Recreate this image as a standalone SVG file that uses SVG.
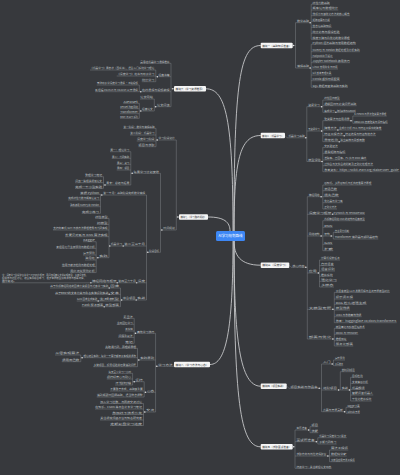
<svg xmlns="http://www.w3.org/2000/svg" width="400" height="475" viewBox="0 0 400 475">
<style>
.n text{font-family:"Noto Sans CJK SC","Noto Sans",sans-serif;font-size:2.6px;fill:#bfc1c4}
.n path{fill:none;stroke:#85888d;stroke-width:.45}
.m rect{fill:#f5f5f5}
.m text{font-family:"Noto Sans CJK SC","Noto Sans",sans-serif;font-size:2.8px;fill:#2f3033;text-anchor:middle}
.c{fill:none;stroke:#c6c7c9;stroke-width:.9}
.k{fill:none;stroke:#85888d;stroke-width:.45}
.d circle{fill:#e0e0e0}
</style>
<rect width="400" height="475" fill="#37393d"/>
<g id="connectors">
<path class="c" d="M234 231C234 80 240 45.5 260.7 45.5M234 231C234 160 240 135.5 260.7 135.5M234 241C234 255 240 265.2 260.7 265.2M234 241C234 340 240 386.2 260.7 386.2M234 241C234 400 240 446.8 260.7 446.8M233 231C233 120 226 88.8 206 88.8M230 231C230 222 224 217 208 217M233 241C233 330 226 364.5 210 364.5"/>
<path class="k" d="M292.7 45.5H295.5M295.5 22.7V68M309.3 22.7H311.2M311.2 4.3V39.3M309.3 68H311.2M311.2 44.3V87.3
M285 135.5L287 137.8M305 137.8H306.8M306.8 106.7V161.5M320 106.7H322.8M322.8 100V112.3M320 131H322.8M322.8 120.7V141.7M350 120.7H352.8M352.8 116V123.3M321 161.5H322.8M322.8 147.3V171.7
M289.3 265.2L291 267.3M305 267.3H307.3M307.3 196.7V339M320 196.7H322.8M322.8 185V209M320 236H322.8M322.8 220.7V250.7M330 236H333.3M333.3 232.3V239M317 273H319.5M319.5 260V287M331.7 309.3H334.3M334.3 292.3V322.7M331.7 339H334.3M334.3 328.3V346
M286.7 386.2L289 388.3M318 388.3H321.5M321.5 364V411.7M331 364H333.5M333.5 360V365.7M337.3 390H340.3M340.3 371.7V390M348.3 390H350.6M350.6 377.3V401M343.3 411.7H346M346 407.3V413.3
M292.7 446.8H295M295 430V468.3M307.3 430H310M310 426.7V432.7M315 441.7H317.8M317.8 437.7V444M326.7 456H329.5M329.5 450V461.7
M174 88.8H171M171 63.3V106.7M158.3 76.7H155.8M155.8 70V81.7M141.7 91.7H139.3M139.3 85V91.7M156.7 106.7H154.3M154.3 99V111M141.7 111H139.3M139.3 103.3V118.3
M179 217H176.3M176.3 140V230M158.3 140H156M156 128.3V146.7M163 230H160.5M160.5 173.3V252.3M133.3 173.3H130.8M130.8 151.7V185M106 185H103.5M103.5 176.7V188.3M149 252.3H146.5M146.5 195V300M103 195H100.5M100.5 194.3V213.3M110.5 246H109M109 218.3V257.7M99 257.7H96.2M96.2 241.7V272.6M122.5 300H120.5M120.5 288V306.7
M174 364.5L174 366.3M158 366.3H155.6M155.6 333.3V412M136.7 333.3H134.2M134.2 318.3V343.3M140 360H137.5M137.5 348.3V366.7M83.3 357.7H80.8M80.8 355V361.7M146.7 392.3H144.2M144.2 381.7V397M135 381.7H132.6M132.6 373.3V385M146 412H143.5M143.5 403.5V425.5"/>
<g class="d">
<circle cx="293.5" cy="45.5" r=".75"/><circle cx="310.1" cy="22.7" r=".75"/><circle cx="310.1" cy="68" r=".75"/><circle cx="305.8" cy="137.8" r=".75"/><circle cx="321.6" cy="106.7" r=".75"/><circle cx="321.6" cy="131" r=".75"/><circle cx="322" cy="161.5" r=".75"/><circle cx="335.9" cy="112.3" r=".75"/><circle cx="351" cy="120.7" r=".75"/><circle cx="337.9" cy="130" r=".75"/><circle cx="344.2" cy="135.7" r=".75"/><circle cx="339.2" cy="141.7" r=".75"/><circle cx="305.8" cy="267.3" r=".75"/><circle cx="321.1" cy="196.7" r=".75"/><circle cx="332.6" cy="214.3" r=".75"/><circle cx="321.1" cy="236" r=".75"/><circle cx="331.2" cy="236" r=".75"/><circle cx="318.3" cy="273" r=".75"/><circle cx="332.9" cy="309.3" r=".75"/><circle cx="332.9" cy="339" r=".75"/><circle cx="319.2" cy="388.3" r=".75"/><circle cx="332.2" cy="364" r=".75"/><circle cx="338.6" cy="390" r=".75"/><circle cx="349.4" cy="390" r=".75"/><circle cx="344.5" cy="411.7" r=".75"/><circle cx="293.7" cy="446.8" r=".75"/><circle cx="308.6" cy="430" r=".75"/><circle cx="316.3" cy="441.7" r=".75"/><circle cx="327.9" cy="456" r=".75"/>
<circle cx="172.8" cy="88.8" r=".75"/><circle cx="157.4" cy="76.7" r=".75"/><circle cx="140.8" cy="91.7" r=".75"/><circle cx="155.7" cy="106.7" r=".75"/><circle cx="140.8" cy="111" r=".75"/><circle cx="177.9" cy="217" r=".75"/><circle cx="157.2" cy="140" r=".75"/><circle cx="161.9" cy="230" r=".75"/><circle cx="132.2" cy="173.3" r=".75"/><circle cx="105" cy="185" r=".75"/><circle cx="147.8" cy="252.3" r=".75"/><circle cx="101.8" cy="195" r=".75"/><circle cx="123.2" cy="246" r=".75"/><circle cx="109.8" cy="246" r=".75"/><circle cx="97.9" cy="257.7" r=".75"/><circle cx="136.7" cy="282.8" r=".75"/><circle cx="117.2" cy="282.8" r=".75"/><circle cx="90.9" cy="282.8" r=".75"/><circle cx="136.2" cy="300" r=".75"/><circle cx="121.7" cy="300" r=".75"/><circle cx="109.2" cy="288" r=".75"/><circle cx="109.2" cy="294.3" r=".75"/><circle cx="98.2" cy="301" r=".75"/><circle cx="104.2" cy="306.7" r=".75"/><circle cx="156.8" cy="366.3" r=".75"/><circle cx="135.5" cy="333.3" r=".75"/><circle cx="138.8" cy="360" r=".75"/><circle cx="82.1" cy="357.7" r=".75"/><circle cx="145.5" cy="392.3" r=".75"/><circle cx="134.2" cy="381.7" r=".75"/><circle cx="144.8" cy="412" r=".75"/>
</g>
</g>
<g id="center"><rect x="216" y="231" width="29" height="10" rx="1.5" fill="#3d87f5"/><text x="230.5" y="237.4" font-family="Noto Sans CJK SC, sans-serif" font-size="3.6" fill="#fff" text-anchor="middle" textLength="24" lengthAdjust="spacingAndGlyphs">AI学习规划路线</text></g>
<g id="R1" class="m"><rect x="260.7" y="42.7" width="32" height="5.6" rx="1"/><text x="276.7" y="46.5" textLength="29" lengthAdjust="spacingAndGlyphs">模块一（基础知识准备）</text></g>
<g id="R2" class="m"><rect x="260.7" y="132.7" width="24.3" height="5.6" rx="1"/><text x="272.85" y="136.5" textLength="21.5" lengthAdjust="spacingAndGlyphs">模块二（机器学习）</text></g>
<g id="R3" class="m"><rect x="260.7" y="262.4" width="28.6" height="5.6" rx="1"/><text x="275" y="266.2" textLength="25.6" lengthAdjust="spacingAndGlyphs">模块三（深度学习）</text></g>
<g id="R4" class="m"><rect x="260.7" y="383.4" width="26" height="5.6" rx="1"/><text x="273.7" y="387.2" textLength="23" lengthAdjust="spacingAndGlyphs">模块四（项目实战）</text></g>
<g id="R5" class="m"><rect x="260.7" y="444" width="32" height="5.6" rx="1"/><text x="276.7" y="447.8" textLength="29" lengthAdjust="spacingAndGlyphs">模块五（求职面试准备）</text></g>
<g id="L1" class="m"><rect x="174" y="86" width="32" height="5.6" rx="1"/><text x="190" y="89.8" textLength="29" lengthAdjust="spacingAndGlyphs">模块六（学习资源推荐）</text></g>
<g id="L2" class="m"><rect x="179" y="214.2" width="29" height="5.6" rx="1"/><text x="193.5" y="218" textLength="26" lengthAdjust="spacingAndGlyphs">模块七（学习路线规划）</text></g>
<g id="L3" class="m"><rect x="174" y="361.7" width="36" height="5.6" rx="1"/><text x="192" y="365.5" textLength="33" lengthAdjust="spacingAndGlyphs">模块八（学习方法与心态）</text></g>
<g class="n">
<g id="r1a"><path d="M295.5 22.7H309.3"/><text x="296.9" y="22" textLength="12" lengthAdjust="spacingAndGlyphs">数学基础</text></g>
<g id="r1b"><path d="M295.5 68H309.3"/><text x="296.9" y="67.3" textLength="12" lengthAdjust="spacingAndGlyphs">编程基础</text></g>
<g id="r1a1"><path d="M311.2 4.3H330"/><text x="312.6" y="3.6" textLength="17" lengthAdjust="spacingAndGlyphs">线性代数基础</text></g>
<g id="r1a2"><path d="M311.2 10H338.3"/><text x="312.6" y="9.3" textLength="25.3" lengthAdjust="spacingAndGlyphs">概率论与数理统计</text></g>
<g id="r1a3"><path d="M311.2 15.7H350"/><text x="312.6" y="15" textLength="37" lengthAdjust="spacingAndGlyphs">微积分与最优化方法的核心概念</text></g>
<g id="r1a4"><path d="M311.2 21.3H330"/><text x="312.6" y="20.6" textLength="17" lengthAdjust="spacingAndGlyphs">矩阵运算与分解</text></g>
<g id="r1a5"><path d="M311.2 27.3H331.7"/><text x="312.6" y="26.6" textLength="18.7" lengthAdjust="spacingAndGlyphs">信息论基础知识</text></g>
<g id="r1a6"><path d="M311.2 33.3H340"/><text x="312.6" y="32.6" textLength="27" lengthAdjust="spacingAndGlyphs">统计分布与假设检验</text></g>
<g id="r1a7"><path d="M311.2 39.3H350"/><text x="312.6" y="38.6" textLength="37" lengthAdjust="spacingAndGlyphs">梯度下降与凸优化的数学原理</text></g>
<g id="r1b1"><path d="M311.2 44.3H356"/><text x="312.6" y="43.6" textLength="43" lengthAdjust="spacingAndGlyphs">Python 语法基础与常用数据结构</text></g>
<g id="r1b2"><path d="M311.2 51.7H360"/><text x="312.6" y="51" textLength="47" lengthAdjust="spacingAndGlyphs">NumPy 与 Pandas 数据处理及分析实践</text></g>
<g id="r1b3"><path d="M311.2 57.3H333"/><text x="312.6" y="56.6" textLength="20" lengthAdjust="spacingAndGlyphs">Matplotlib 可视化</text></g>
<g id="r1b4"><path d="M311.2 62.7H350"/><text x="312.6" y="62" textLength="37" lengthAdjust="spacingAndGlyphs">Jupyter Notebook 使用技巧</text></g>
<g id="r1b5"><path d="M311.2 69H338"/><text x="312.6" y="68.3" textLength="25" lengthAdjust="spacingAndGlyphs">Linux 常用命令与环境</text></g>
<g id="r1b6"><path d="M311.2 75H331.7"/><text x="312.6" y="74.3" textLength="18.7" lengthAdjust="spacingAndGlyphs">Git 版本管理工具</text></g>
<g id="r1b7"><path d="M311.2 80.7H340"/><text x="312.6" y="80" textLength="27" lengthAdjust="spacingAndGlyphs">Conda 虚拟环境配置</text></g>
<g id="r1b8"><path d="M311.2 87.3H348"/><text x="312.6" y="86.6" textLength="35" lengthAdjust="spacingAndGlyphs">SQL 数据库查询基础与实践</text></g>

<g id="r2l"><path d="M287 137.8H305"/><text x="288.4" y="137.1" textLength="16.2" lengthAdjust="spacingAndGlyphs">机器学习基础</text></g>
<g id="r2a"><path d="M306.8 106.7H320"/><text x="308.2" y="106" textLength="11.4" lengthAdjust="spacingAndGlyphs">监督学习</text></g>
<g id="r2b"><path d="M306.8 131H320"/><text x="308.2" y="130.3" textLength="11.4" lengthAdjust="spacingAndGlyphs">无监督学习</text></g>
<g id="r2c"><path d="M306.8 161.5H321"/><text x="308.2" y="160.8" textLength="12.4" lengthAdjust="spacingAndGlyphs">模型评估</text></g>
<g id="r2a1"><path d="M322.8 100H340"/><text x="324.2" y="99.3" textLength="15.4" lengthAdjust="spacingAndGlyphs">线性回归模型</text></g>
<g id="r2a2"><path d="M322.8 105.7H356.7"/><text x="324.2" y="105" textLength="32.1" lengthAdjust="spacingAndGlyphs">逻辑回归与分类问题基础</text></g>
<g id="r2a3"><path d="M322.8 112.3H335"/><text x="324.2" y="111.6" textLength="10.4" lengthAdjust="spacingAndGlyphs">集成学习</text></g>
<g id="r2a3a"><path d="M335 112.3H356"/><text x="336.9" y="111.6" textLength="18.7" lengthAdjust="spacingAndGlyphs">随机森林与XGBoost</text></g>
<g id="r2b1"><path d="M322.8 120.7H350"/><text x="324.2" y="120" textLength="25.4" lengthAdjust="spacingAndGlyphs">聚类算法与应用场景</text></g>
<g id="r2b1a"><path d="M352.8 116H386.7"/><text x="354.2" y="115.3" textLength="32.1" lengthAdjust="spacingAndGlyphs">K-Means 与层次聚类算法原理</text></g>
<g id="r2b1b"><path d="M352.8 123.3H388"/><text x="354.2" y="122.6" textLength="33.4" lengthAdjust="spacingAndGlyphs">DBSCAN 密度聚类与评价指标</text></g>
<g id="r2b2"><path d="M322.8 130H337"/><text x="324.2" y="129.3" textLength="12.4" lengthAdjust="spacingAndGlyphs">降维方法</text></g>
<g id="r2b2a"><path d="M337 130H381.7"/><text x="338.9" y="129.3" textLength="42.4" lengthAdjust="spacingAndGlyphs">主成分分析 PCA 与特征工程中的降维</text></g>
<g id="r2b3"><path d="M322.8 135.7H343.3"/><text x="324.2" y="135" textLength="18.7" lengthAdjust="spacingAndGlyphs">特征工程方法</text></g>
<g id="r2b3a"><path d="M343.3 135.7H376"/><text x="345.2" y="135" textLength="30.4" lengthAdjust="spacingAndGlyphs">特征选择与特征构造方法</text></g>
<g id="r2b4"><path d="M322.8 141.7H338.3"/><text x="324.2" y="141" textLength="13.7" lengthAdjust="spacingAndGlyphs">异常检测</text></g>
<g id="r2b4a"><path d="M338.3 141.7H365"/><text x="340.2" y="141" textLength="24.4" lengthAdjust="spacingAndGlyphs">孤立森林与局部离群</text></g>
<g id="r2c1"><path d="M322.8 147.3H338"/><text x="324.2" y="146.6" textLength="13.4" lengthAdjust="spacingAndGlyphs">交叉验证法</text></g>
<g id="r2c2"><path d="M322.8 153.3H345.7"/><text x="324.2" y="152.6" textLength="21.1" lengthAdjust="spacingAndGlyphs">混淆矩阵与指标</text></g>
<g id="r2c3"><path d="M322.8 160H366.7"/><text x="324.2" y="159.3" textLength="42.1" lengthAdjust="spacingAndGlyphs">准确率、召回率、F1 值与 ROC 曲线</text></g>
<g id="r2c4"><path d="M322.8 165.7H373.3"/><text x="324.2" y="165" textLength="48.7" lengthAdjust="spacingAndGlyphs">过拟合与欠拟合的判断及正则化处理方法</text></g>
<g id="r2c5"><path d="M322.8 171.7H399.5"/><text x="324.2" y="171" textLength="74.5" lengthAdjust="spacingAndGlyphs">参考资料：https://scikit-learn.org/stable/user_guide</text></g>

<g id="r3l"><path d="M291 267.3H305"/><text x="292.4" y="266.6" textLength="12.2" lengthAdjust="spacingAndGlyphs">核心内容</text></g>
<g id="r3a"><path d="M307.3 196.7H320"/><text x="308.7" y="196" textLength="10.9" lengthAdjust="spacingAndGlyphs">神经网络</text></g>
<g id="r3b"><path d="M307.3 214.3H331.7"/><text x="308.7" y="213.6" textLength="22.6" lengthAdjust="spacingAndGlyphs">深度学习框架</text></g>
<g id="r3b1"><path d="M331.7 214.3H365"/><text x="333.6" y="213.6" textLength="31" lengthAdjust="spacingAndGlyphs">PyTorch 与 TensorFlow</text></g>
<g id="r3c"><path d="M307.3 236H320"/><text x="308.7" y="235.3" textLength="10.9" lengthAdjust="spacingAndGlyphs">网络结构</text></g>
<g id="r3d"><path d="M307.3 273H317"/><text x="308.7" y="272.3" textLength="7.9" lengthAdjust="spacingAndGlyphs">应用</text></g>
<g id="r3e"><path d="M307.3 309.3H331.7"/><text x="308.7" y="308.6" textLength="22.6" lengthAdjust="spacingAndGlyphs">大模型专题</text></g>
<g id="r3f"><path d="M307.3 339H331.7"/><text x="308.7" y="338.3" textLength="22.6" lengthAdjust="spacingAndGlyphs">部署与优化</text></g>
<g id="r3a1"><path d="M322.8 185H371.7"/><text x="324.2" y="184.3" textLength="47.1" lengthAdjust="spacingAndGlyphs">感知机、多层感知机与反向传播算法原理</text></g>
<g id="r3a2"><path d="M322.8 190.7H337.3"/><text x="324.2" y="190" textLength="12.7" lengthAdjust="spacingAndGlyphs">激活函数</text></g>
<g id="r3a3"><path d="M322.8 196.7H339"/><text x="324.2" y="196" textLength="14.4" lengthAdjust="spacingAndGlyphs">损失函数</text></g>
<g id="r3a4"><path d="M322.8 202.7H343"/><text x="324.2" y="202" textLength="18.4" lengthAdjust="spacingAndGlyphs">优化器与学习率</text></g>
<g id="r3a5"><path d="M322.8 209H337"/><text x="324.2" y="208.3" textLength="12.4" lengthAdjust="spacingAndGlyphs">正则化方法</text></g>
<g id="r3c1"><path d="M322.8 220.7H365"/><text x="324.2" y="220" textLength="40.4" lengthAdjust="spacingAndGlyphs">卷积神经网络 CNN 的结构与经典模型</text></g>
<g id="r3c2"><path d="M322.8 227.3H332.7"/><text x="324.2" y="226.6" textLength="8.1" lengthAdjust="spacingAndGlyphs">RNN</text></g>
<g id="r3c3"><path d="M322.8 236H330"/><text x="324.2" y="235.3" textLength="5.4" lengthAdjust="spacingAndGlyphs">架构</text></g>
<g id="r3c3a"><path d="M333.3 232.3H349.3"/><text x="334.7" y="231.6" textLength="14.2" lengthAdjust="spacingAndGlyphs">自注意力机制</text></g>
<g id="r3c3b"><path d="M333.3 239H378.3"/><text x="334.7" y="238.3" textLength="43.2" lengthAdjust="spacingAndGlyphs">Transformer 编码器与解码器结构</text></g>
<g id="r3c4"><path d="M322.8 244.3H332.7"/><text x="324.2" y="243.6" textLength="8.1" lengthAdjust="spacingAndGlyphs">GAN</text></g>
<g id="r3c5"><path d="M322.8 250.7H333.3"/><text x="324.2" y="250" textLength="8.7" lengthAdjust="spacingAndGlyphs">扩散</text></g>
<g id="r3d1"><path d="M319.5 260H340"/><text x="320.9" y="259.3" textLength="18.7" lengthAdjust="spacingAndGlyphs">计算机视觉任务</text></g>
<g id="r3d2"><path d="M319.5 265.7H334"/><text x="320.9" y="265" textLength="12.7" lengthAdjust="spacingAndGlyphs">自然语言</text></g>
<g id="r3d3"><path d="M319.5 271H335"/><text x="320.9" y="270.3" textLength="13.7" lengthAdjust="spacingAndGlyphs">语音识别</text></g>
<g id="r3d4"><path d="M319.5 276.3H333"/><text x="320.9" y="275.6" textLength="11.7" lengthAdjust="spacingAndGlyphs">推荐系统</text></g>
<g id="r3d5"><path d="M319.5 281.3H337"/><text x="320.9" y="280.6" textLength="15.7" lengthAdjust="spacingAndGlyphs">强化学习</text></g>
<g id="r3d6"><path d="M319.5 287H334"/><text x="320.9" y="286.3" textLength="12.7" lengthAdjust="spacingAndGlyphs">多模态</text></g>
<g id="r3e1"><path d="M334.3 292.3H390"/><text x="335.7" y="291.6" textLength="53.9" lengthAdjust="spacingAndGlyphs">大语言模型 LLM 发展历程与主流开源模型对比</text></g>
<g id="r3e2"><path d="M334.3 299H353.3"/><text x="335.7" y="298.3" textLength="17.2" lengthAdjust="spacingAndGlyphs">提示词工程</text></g>
<g id="r3e3"><path d="M334.3 304.3H366.7"/><text x="335.7" y="303.6" textLength="30.6" lengthAdjust="spacingAndGlyphs">RAG 检索增强生成</text></g>
<g id="r3e4"><path d="M334.3 310H350"/><text x="335.7" y="309.3" textLength="13.9" lengthAdjust="spacingAndGlyphs">模型微调</text></g>
<g id="r3e5"><path d="M334.3 316.7H361.7"/><text x="335.7" y="316" textLength="25.6" lengthAdjust="spacingAndGlyphs">LoRA 与参数高效微调</text></g>
<g id="r3e6"><path d="M334.3 322.7H396.7"/><text x="335.7" y="322" textLength="60.6" lengthAdjust="spacingAndGlyphs">参考：huggingface.co/docs/transformers</text></g>
<g id="r3f1"><path d="M334.3 328.3H365"/><text x="335.7" y="327.6" textLength="28.9" lengthAdjust="spacingAndGlyphs">模型量化与剪枝压缩技术</text></g>
<g id="r3f2"><path d="M334.3 334.3H358.3"/><text x="335.7" y="333.6" textLength="22.2" lengthAdjust="spacingAndGlyphs">ONNX 与 TensorRT</text></g>
<g id="r3f3"><path d="M334.3 340.7H346.7"/><text x="335.7" y="340" textLength="10.6" lengthAdjust="spacingAndGlyphs">推理加速</text></g>
<g id="r3f4"><path d="M334.3 346H353.3"/><text x="335.7" y="345.3" textLength="17.2" lengthAdjust="spacingAndGlyphs">服务化部署</text></g>

<g id="r4l"><path d="M289 388.3H318"/><text x="290.4" y="387.6" textLength="27.2" lengthAdjust="spacingAndGlyphs">项目实战与作品集</text></g>
<g id="r4a"><path d="M321.5 364H331"/><text x="322.9" y="363.3" textLength="7.7" lengthAdjust="spacingAndGlyphs">入门</text></g>
<g id="r4a1"><path d="M333.5 360H345"/><text x="334.9" y="359.3" textLength="9.7" lengthAdjust="spacingAndGlyphs">房价预测</text></g>
<g id="r4a2"><path d="M333.5 365.7H343.3"/><text x="334.9" y="365" textLength="8" lengthAdjust="spacingAndGlyphs">手写数字</text></g>
<g id="r4b"><path d="M321.5 390H337.3"/><text x="322.9" y="389.3" textLength="14" lengthAdjust="spacingAndGlyphs">进阶项目</text></g>
<g id="r4b1"><path d="M340.3 371.7H355"/><text x="341.7" y="371" textLength="12.9" lengthAdjust="spacingAndGlyphs">猫狗识别项目</text></g>
<g id="r4b2"><path d="M340.3 390H348.3"/><text x="341.7" y="389.3" textLength="6.2" lengthAdjust="spacingAndGlyphs">实战</text></g>
<g id="r4b2a"><path d="M350.6 377.3H363"/><text x="352" y="376.6" textLength="10.6" lengthAdjust="spacingAndGlyphs">目标检测</text></g>
<g id="r4b2b"><path d="M350.6 383.3H368.3"/><text x="352" y="382.6" textLength="15.9" lengthAdjust="spacingAndGlyphs">文本情感分析</text></g>
<g id="r4b2c"><path d="M350.6 389.3H365"/><text x="352" y="388.6" textLength="12.6" lengthAdjust="spacingAndGlyphs">机器翻译</text></g>
<g id="r4b2d"><path d="M350.6 395H373.3"/><text x="352" y="394.3" textLength="20.9" lengthAdjust="spacingAndGlyphs">智能问答机器人</text></g>
<g id="r4b2e"><path d="M350.6 401H371.7"/><text x="352" y="400.3" textLength="19.3" lengthAdjust="spacingAndGlyphs">个性化推荐系统</text></g>
<g id="r4c"><path d="M321.5 411.7H343.3"/><text x="322.9" y="411" textLength="20" lengthAdjust="spacingAndGlyphs">竞赛与开源贡献</text></g>
<g id="r4c1"><path d="M346 407.3H360"/><text x="347.4" y="406.6" textLength="12.2" lengthAdjust="spacingAndGlyphs">Kaggle 竞赛</text></g>
<g id="r4c2"><path d="M346 413.3H360"/><text x="347.4" y="412.6" textLength="12.2" lengthAdjust="spacingAndGlyphs">GitHub 开源</text></g>

<g id="r5a"><path d="M295 430H307.3"/><text x="296.4" y="429.3" textLength="10.5" lengthAdjust="spacingAndGlyphs">简历准备</text></g>
<g id="r5a1"><path d="M310 426.7H318.3"/><text x="311.4" y="426" textLength="6.5" lengthAdjust="spacingAndGlyphs">项目</text></g>
<g id="r5a2"><path d="M310 432.7H318.3"/><text x="311.4" y="432" textLength="6.5" lengthAdjust="spacingAndGlyphs">技能</text></g>
<g id="r5b"><path d="M295 441.7H315"/><text x="296.4" y="441" textLength="18.2" lengthAdjust="spacingAndGlyphs">面试题准备</text></g>
<g id="r5b1"><path d="M317.8 437.7H346.7"/><text x="319.2" y="437" textLength="27.1" lengthAdjust="spacingAndGlyphs">机器学习深度学习八股文</text></g>
<g id="r5b2"><path d="M317.8 444H336.7"/><text x="319.2" y="443.3" textLength="17.1" lengthAdjust="spacingAndGlyphs">手撕代码练习</text></g>
<g id="r5c"><path d="M295 456H326.7"/><text x="296.4" y="455.3" textLength="29.9" lengthAdjust="spacingAndGlyphs">求职方向与岗位选择建议</text></g>
<g id="r5c1"><path d="M329.5 450H348.3"/><text x="330.9" y="449.3" textLength="17" lengthAdjust="spacingAndGlyphs">算法工程师</text></g>
<g id="r5c2"><path d="M329.5 456H346.7"/><text x="330.9" y="455.3" textLength="15.4" lengthAdjust="spacingAndGlyphs">数据科学家</text></g>
<g id="r5c3"><path d="M329.5 461.7H355"/><text x="330.9" y="461" textLength="23.7" lengthAdjust="spacingAndGlyphs">大模型应用开发工程师</text></g>
<g id="r5d"><path d="M295 468.3H331.7"/><text x="296.4" y="467.6" textLength="34.9" lengthAdjust="spacingAndGlyphs">持续学习：关注前沿论文动态</text></g>

<g id="l1a"><path d="M140 63.3H171"/><text x="140.3" y="62.6" textLength="29.2" lengthAdjust="spacingAndGlyphs">吴恩达机器学习课程推荐</text></g>
<g id="l1b"><path d="M158.3 76.7H171"/><text x="158.6" y="76" textLength="10.9" lengthAdjust="spacingAndGlyphs">经典书籍</text></g>
<g id="l1b1"><path d="M90 70H155.8"/><text x="90.3" y="69.3" textLength="64" lengthAdjust="spacingAndGlyphs">《机器学习》周志华（西瓜书），适合入门系统学习理论</text></g>
<g id="l1b2"><path d="M116.7 76H155.8"/><text x="117" y="75.3" textLength="37.3" lengthAdjust="spacingAndGlyphs">《深度学习》花书与动手学习</text></g>
<g id="l1b3"><path d="M141.7 81.7H155.8"/><text x="142" y="81" textLength="12.3" lengthAdjust="spacingAndGlyphs">统计学习</text></g>
<g id="l1c"><path d="M141.7 91.7H171"/><text x="142" y="91" textLength="27.5" lengthAdjust="spacingAndGlyphs">在线课程与视频教程</text></g>
<g id="l1c1"><path d="M96.7 85H139.3"/><text x="97" y="84.3" textLength="40.8" lengthAdjust="spacingAndGlyphs">李沐动手学深度学习课程 · B站视频</text></g>
<g id="l1c2"><path d="M95 91.7H139.3"/><text x="95.3" y="91" textLength="42.5" lengthAdjust="spacingAndGlyphs">斯坦福 CS231n 与 CS224n 公开课程</text></g>
<g id="l1d"><path d="M156.7 106.7H171"/><text x="157" y="106" textLength="12.5" lengthAdjust="spacingAndGlyphs">论文阅读</text></g>
<g id="l1d1"><path d="M140 99H154.3"/><text x="140.3" y="98.3" textLength="12.5" lengthAdjust="spacingAndGlyphs">论文网站</text></g>
<g id="l1d2"><path d="M141.7 111H154.3"/><text x="142" y="110.3" textLength="10.8" lengthAdjust="spacingAndGlyphs">经典论文</text></g>
<g id="l1d2a"><path d="M123.3 103.3H139.3"/><text x="123.6" y="102.6" textLength="14.2" lengthAdjust="spacingAndGlyphs">AlexNet</text></g>
<g id="l1d2b"><path d="M120 108.7H139.3"/><text x="120.3" y="108" textLength="17.5" lengthAdjust="spacingAndGlyphs">ResNet 残差网络</text></g>
<g id="l1d2c"><path d="M120 113.7H139.3"/><text x="120.3" y="113" textLength="17.5" lengthAdjust="spacingAndGlyphs">Transformer</text></g>
<g id="l1d2d"><path d="M120 118.3H139.3"/><text x="120.3" y="117.6" textLength="17.5" lengthAdjust="spacingAndGlyphs">BERT 与 GPT 系列</text></g>

<g id="l2a"><path d="M158.3 140H176.3"/><text x="158.6" y="139.3" textLength="16.2" lengthAdjust="spacingAndGlyphs">学习阶段划分</text></g>
<g id="l2a1"><path d="M123.3 128.3H156"/><text x="123.6" y="127.6" textLength="30.9" lengthAdjust="spacingAndGlyphs">第一阶段：数学与编程基础</text></g>
<g id="l2a2"><path d="M130 135H156"/><text x="130.3" y="134.3" textLength="24.2" lengthAdjust="spacingAndGlyphs">第二阶段：机器学习</text></g>
<g id="l2a3"><path d="M136.7 141H156"/><text x="137" y="140.3" textLength="17.5" lengthAdjust="spacingAndGlyphs">深度学习阶段</text></g>
<g id="l2a4"><path d="M138.3 146.7H156"/><text x="138.6" y="146" textLength="15.9" lengthAdjust="spacingAndGlyphs">项目与求职</text></g>
<g id="l2b"><path d="M163 230H176.3"/><text x="163.3" y="229.3" textLength="11.5" lengthAdjust="spacingAndGlyphs">时间规划</text></g>
<g id="l2b1"><path d="M133.3 173.3H160.5"/><text x="133.6" y="172.6" textLength="25.4" lengthAdjust="spacingAndGlyphs">每周学习计划安排</text></g>
<g id="l2b1a"><path d="M110 151.7H130.8"/><text x="110.3" y="151" textLength="19" lengthAdjust="spacingAndGlyphs">周一：理论学习</text></g>
<g id="l2b1b"><path d="M111.7 158.3H130.8"/><text x="112" y="157.6" textLength="17.3" lengthAdjust="spacingAndGlyphs">周二：代码实践</text></g>
<g id="l2b1c"><path d="M116.7 164.3H130.8"/><text x="117" y="163.6" textLength="12.3" lengthAdjust="spacingAndGlyphs">周三：复习</text></g>
<g id="l2b1d"><path d="M116.7 170H130.8"/><text x="117" y="169.3" textLength="12.3" lengthAdjust="spacingAndGlyphs">周四：项目</text></g>
<g id="l2b1e"><path d="M106 185H130.8"/><text x="106.3" y="184.3" textLength="23" lengthAdjust="spacingAndGlyphs">周末：总结与拓展</text></g>
<g id="l2b1e1"><path d="M85 176.7H103.5"/><text x="85.3" y="176" textLength="16.7" lengthAdjust="spacingAndGlyphs">整理学习笔记</text></g>
<g id="l2b1e2"><path d="M75 182.7H103.5"/><text x="75.3" y="182" textLength="26.7" lengthAdjust="spacingAndGlyphs">阅读一篇相关领域论文</text></g>
<g id="l2b1e3"><path d="M75 188.3H103.5"/><text x="75.3" y="187.6" textLength="26.7" lengthAdjust="spacingAndGlyphs">完成一个小型实验</text></g>
<g id="l2c"><path d="M149 252.3H160.5"/><text x="149.3" y="251.6" textLength="9.7" lengthAdjust="spacingAndGlyphs">阶段目标</text></g>
<g id="l2c1"><path d="M103 195H146.5"/><text x="103.3" y="194.3" textLength="41.7" lengthAdjust="spacingAndGlyphs">第一个月：基础阶段完成数学编程</text></g>
<g id="l2c1a"><path d="M80 194.3H100.5"/><text x="80.3" y="193.6" textLength="18.7" lengthAdjust="spacingAndGlyphs">掌握 Python</text></g>
<g id="l2c1b"><path d="M68 200H100.5"/><text x="68.3" y="199.3" textLength="30.7" lengthAdjust="spacingAndGlyphs">完成线性代数与概率论复习</text></g>
<g id="l2c1c"><path d="M70 206.7H100.5"/><text x="70.3" y="206" textLength="28.7" lengthAdjust="spacingAndGlyphs">熟练使用 NumPy 和 Pandas</text></g>
<g id="l2c1d"><path d="M81.7 213.3H100.5"/><text x="82" y="212.6" textLength="17" lengthAdjust="spacingAndGlyphs">完成小练习</text></g>
<g id="l2c2"><path d="M124 246H146.5"/><text x="124.3" y="245.3" textLength="20.7" lengthAdjust="spacingAndGlyphs">第二至三个月</text></g>
<g id="l2c2a"><path d="M110.5 246H124"/><text x="110.8" y="245.3" textLength="11.2" lengthAdjust="spacingAndGlyphs">机器学习</text></g>
<g id="l2c2a1"><path d="M95 218.3H109"/><text x="95.3" y="217.6" textLength="12.2" lengthAdjust="spacingAndGlyphs">线性模型</text></g>
<g id="l2c2a2"><path d="M96.7 224.3H109"/><text x="97" y="223.6" textLength="10.5" lengthAdjust="spacingAndGlyphs">树模型</text></g>
<g id="l2c2a3"><path d="M53 230H109"/><text x="53.3" y="229.3" textLength="54.2" lengthAdjust="spacingAndGlyphs">支持向量机 SVM 与核方法原理推导与代码实现</text></g>
<g id="l2c2a4"><path d="M65 236.7H109"/><text x="65.3" y="236" textLength="42.2" lengthAdjust="spacingAndGlyphs">朴素贝叶斯与 KNN 算法实现</text></g>
<g id="l2c2a5"><path d="M99 257.7H109"/><text x="99.3" y="257" textLength="8.2" lengthAdjust="spacingAndGlyphs">实践</text></g>
<g id="l2c2a5a"><path d="M83 241.7H96.2"/><text x="83.3" y="241" textLength="11.4" lengthAdjust="spacingAndGlyphs">Kaggle</text></g>
<g id="l2c2a5b"><path d="M56 248.3H96.2"/><text x="56.3" y="247.6" textLength="38.4" lengthAdjust="spacingAndGlyphs">泰坦尼克号生存预测与数据分析</text></g>
<g id="l2c2a5c"><path d="M83 255H96.2"/><text x="83.3" y="254.3" textLength="11.4" lengthAdjust="spacingAndGlyphs">房价预测</text></g>
<g id="l2c2a5d"><path d="M85 260H96.2"/><text x="85.3" y="259.3" textLength="9.4" lengthAdjust="spacingAndGlyphs">鸢尾花</text></g>
<g id="l2c2a5e"><path d="M61.7 266.4H96.2"/><text x="62" y="265.7" textLength="32.7" lengthAdjust="spacingAndGlyphs">信用卡欺诈检测与数据处理</text></g>
<g id="l2c2a5f"><path d="M70 272.6H96.2"/><text x="70.3" y="271.9" textLength="24.4" lengthAdjust="spacingAndGlyphs">用户流失预测分析</text></g>
<g id="l2c3"><path d="M137.5 282.8H146.5"/><text x="137.8" y="282.1" textLength="7.2" lengthAdjust="spacingAndGlyphs">深度</text></g>
<g id="l2c3a"><path d="M118 282.8H137.5"/><text x="118.3" y="282.1" textLength="17.7" lengthAdjust="spacingAndGlyphs">第四至六个月</text></g>
<g id="l2c3b"><path d="M91.7 282.8H118"/><text x="92" y="282.1" textLength="24.5" lengthAdjust="spacingAndGlyphs">神经网络与框架</text></g>
<g id="l2c3c"><path d="M1.7 282.8H91.7"/><text x="2" y="276.1" font-size="2.3" textLength="86" lengthAdjust="spacingAndGlyphs">注：深度学习阶段建议先学习 PyTorch 框架，再阅读经典论文并复现模型，多查阅文档，</text><text x="2" y="279.1" font-size="2.3" textLength="84" lengthAdjust="spacingAndGlyphs">积极参与社区讨论，结合实际项目练习，逐步掌握模型训练调参与部署流程，</text><text x="2" y="282.1" font-size="2.3" textLength="14" lengthAdjust="spacingAndGlyphs">循序渐进。</text></g>
<g id="l2c4"><path d="M137 300H146.5"/><text x="137.3" y="299.3" textLength="7.7" lengthAdjust="spacingAndGlyphs">实战</text></g>
<g id="l2c4a"><path d="M122.5 300H137"/><text x="122.8" y="299.3" textLength="12.7" lengthAdjust="spacingAndGlyphs">综合项目</text></g>
<g id="l2c4a1"><path d="M110 288H120.5"/><text x="110.3" y="287.3" textLength="8.7" lengthAdjust="spacingAndGlyphs">图像</text></g>
<g id="l2c4a1a"><path d="M50 288H110"/><text x="50.3" y="287.3" textLength="58" lengthAdjust="spacingAndGlyphs">基于卷积神经网络的图像分类项目与迁移学习实践</text></g>
<g id="l2c4a2"><path d="M110 294.3H120.5"/><text x="110.3" y="293.6" textLength="8.7" lengthAdjust="spacingAndGlyphs">文本</text></g>
<g id="l2c4a2a"><path d="M55 294.3H110"/><text x="55.3" y="293.6" textLength="53" lengthAdjust="spacingAndGlyphs">基于BERT的文本分类与命名实体识别实战</text></g>
<g id="l2c4a3"><path d="M99 301H120.5"/><text x="99.3" y="300.3" textLength="19.7" lengthAdjust="spacingAndGlyphs">生成模型</text></g>
<g id="l2c4a3a"><path d="M76.7 301H99"/><text x="77" y="300.3" textLength="20.3" lengthAdjust="spacingAndGlyphs">GAN 图像生成实验</text></g>
<g id="l2c4a4"><path d="M105 306.7H120.5"/><text x="105.3" y="306" textLength="13.7" lengthAdjust="spacingAndGlyphs">模型部署</text></g>
<g id="l2c4a4a"><path d="M81.7 306.7H105"/><text x="82" y="306" textLength="21.3" lengthAdjust="spacingAndGlyphs">Flask 服务部署</text></g>

<g id="l3l"><path d="M158 366.3H174"/><text x="158.3" y="365.6" textLength="14.2" lengthAdjust="spacingAndGlyphs">学习方法</text></g>
<g id="l3a"><path d="M136.7 333.3H155.6"/><text x="137" y="332.6" textLength="17.1" lengthAdjust="spacingAndGlyphs">高效学习技巧</text></g>
<g id="l3a1"><path d="M123.3 318.3H134.2"/><text x="123.6" y="317.6" textLength="9.1" lengthAdjust="spacingAndGlyphs">费曼法</text></g>
<g id="l3a2"><path d="M116.7 324.3H134.2"/><text x="117" y="323.6" textLength="15.7" lengthAdjust="spacingAndGlyphs">主动回忆学习</text></g>
<g id="l3a3"><path d="M125 331H134.2"/><text x="125.3" y="330.3" textLength="7.4" lengthAdjust="spacingAndGlyphs">番茄钟</text></g>
<g id="l3a4"><path d="M118.3 337.3H134.2"/><text x="118.6" y="336.6" textLength="14.1" lengthAdjust="spacingAndGlyphs">间隔重复法</text></g>
<g id="l3a5"><path d="M125 343.3H134.2"/><text x="125.3" y="342.6" textLength="7.4" lengthAdjust="spacingAndGlyphs">笔记</text></g>
<g id="l3b"><path d="M140 360H155.6"/><text x="140.3" y="359.3" textLength="13.8" lengthAdjust="spacingAndGlyphs">实践原则</text></g>
<g id="l3b1"><path d="M105 348.3H137.5"/><text x="105.3" y="347.6" textLength="30.7" lengthAdjust="spacingAndGlyphs">先跑通代码，再理解原理</text></g>
<g id="l3b2"><path d="M83.3 357.7H137.5"/><text x="83.6" y="357" textLength="52.4" lengthAdjust="spacingAndGlyphs">理论结合实践：每学一个算法都亲手实现并调参</text></g>
<g id="l3b2a"><path d="M55 355H80.8"/><text x="55.3" y="354.3" textLength="24" lengthAdjust="spacingAndGlyphs">从零实现算法</text></g>
<g id="l3b2b"><path d="M61.7 361.7H80.8"/><text x="62" y="361" textLength="17.3" lengthAdjust="spacingAndGlyphs">调用库函数</text></g>
<g id="l3b3"><path d="M93.3 366.7H137.5"/><text x="93.6" y="366" textLength="42.4" lengthAdjust="spacingAndGlyphs">多做项目，积累经验并记录遇到问题</text></g>
<g id="l3c"><path d="M146.7 392.3H155.6"/><text x="147" y="391.6" textLength="7.1" lengthAdjust="spacingAndGlyphs">心态</text></g>
<g id="l3c1"><path d="M135 381.7H144.2"/><text x="135.3" y="381" textLength="7.4" lengthAdjust="spacingAndGlyphs">坚持</text></g>
<g id="l3c1a"><path d="M108.3 373.3H132.6"/><text x="108.6" y="372.6" textLength="22.5" lengthAdjust="spacingAndGlyphs">每天至少学习一小时</text></g>
<g id="l3c1b"><path d="M106.7 379H132.6"/><text x="107" y="378.3" textLength="24.1" lengthAdjust="spacingAndGlyphs">保持好奇心与耐心</text></g>
<g id="l3c1c"><path d="M115 385H132.6"/><text x="115.3" y="384.3" textLength="15.8" lengthAdjust="spacingAndGlyphs">不怕犯错</text></g>
<g id="l3c2"><path d="M110 391H144.2"/><text x="110.3" y="390.3" textLength="32.4" lengthAdjust="spacingAndGlyphs">不要急于求成，基础最重要</text></g>
<g id="l3c3"><path d="M96.7 397H144.2"/><text x="97" y="396.3" textLength="45.7" lengthAdjust="spacingAndGlyphs">遇到瓶颈时回顾基础，适当休息调整</text></g>
<g id="l3d"><path d="M146 412H155.6"/><text x="146.3" y="411.3" textLength="7.8" lengthAdjust="spacingAndGlyphs">交流</text></g>
<g id="l3d1"><path d="M100 403.5H143.5"/><text x="100.3" y="402.8" textLength="41.7" lengthAdjust="spacingAndGlyphs">加入学习社群，与同伴交流讨论</text></g>
<g id="l3d2"><path d="M95 409H143.5"/><text x="95.3" y="408.3" textLength="46.7" lengthAdjust="spacingAndGlyphs">在知乎、CSDN 等平台分享学习笔记</text></g>
<g id="l3d3"><path d="M112 414.5H143.5"/><text x="112.3" y="413.8" textLength="29.7" lengthAdjust="spacingAndGlyphs">参加线下技术沙龙</text></g>
<g id="l3d4"><path d="M100 420H143.5"/><text x="100.3" y="419.3" textLength="41.7" lengthAdjust="spacingAndGlyphs">关注领域顶级会议与知名研究者</text></g>
<g id="l3d5"><path d="M110 425.5H143.5"/><text x="110.3" y="424.8" textLength="31.7" lengthAdjust="spacingAndGlyphs">定期复盘学习进度</text></g>
</g>
</svg>
